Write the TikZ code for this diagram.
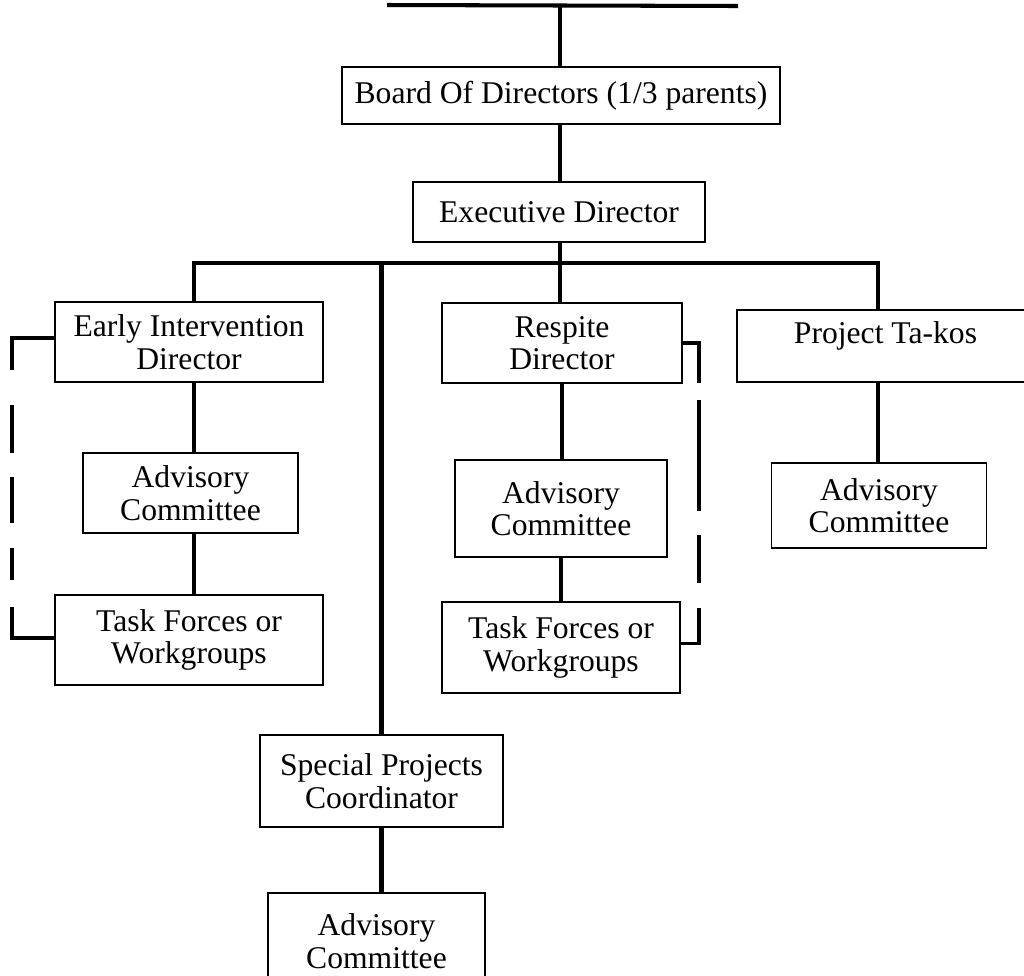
\documentclass[tikz,border=0pt]{standalone}
\usepackage{fontspec}
\setmainfont{Liberation Serif}
\usepackage{tikz}
\usetikzlibrary{calc}
\tikzset{
  unit/.style={draw=black,fill=white,line width=1.1pt,align=center,inner sep=0pt,
    font=\fontsize{18}{18.5}\selectfont},
  link/.style={draw=black,line width=2.3pt},
  staffL/.style={draw=black,line width=2pt,
    dash pattern=on 1.48cm off 0.7cm on 0.96cm off 0.48cm on 0.92cm off 0.5cm on 0.64cm off 0.54cm on 2cm},
  staffR/.style={draw=black,line width=2pt,
    dash pattern=on 1.12cm off 0.34cm on 2.22cm off 0.48cm on 0.96cm off 0.5cm on 2cm},
}

\begin{document}
\begin{tikzpicture}[x=0.02cm,y=-0.02cm]
\useasboundingbox (0,0) rectangle (1024,975);
\clip (0,0) rectangle (1024,975);
\coordinate (topL) at (387,5);
\coordinate (topR) at (738,6);
\coordinate (top) at (560,5);
\coordinate (bus) at (560,263);
\coordinate (busL) at (194,263);
\coordinate (busR) at (878,263);
\node[unit,minimum width=8.76cm,minimum height=1.14cm] (board) at (561,95.5) {Board Of Directors (1/3 parents)};
\node[unit,minimum width=5.84cm,minimum height=1.20cm] (exec) at (559,212) {Executive Director};
\node[unit,minimum width=5.36cm,minimum height=1.60cm] (eid) at (189,342) {Early Intervention\\Director};
\node[unit,minimum width=4.30cm,minimum height=1.60cm] (eiadv) at (190.5,493) {Advisory\\Committee};
\node[unit,minimum width=5.36cm,minimum height=1.80cm] (eitask) at (189,640) {Task Forces or\\Workgroups};
\node[unit,minimum width=4.80cm,minimum height=1.60cm] (resp) at (562,343) {Respite\\Director};
\node[unit,minimum width=4.24cm,minimum height=1.94cm] (radv) at (561,508.5) {Advisory\\Committee};
\node[unit,minimum width=4.76cm,minimum height=1.82cm] (rtask) at (561,647.5) {Task Forces or\\Workgroups};
\node[unit,minimum width=5.94cm,minimum height=1.44cm,text depth=0.55cm] (takos) at (885.5,346) {Project Ta-kos};
\node[unit,minimum width=4.30cm,minimum height=1.70cm] (tadv) at (879,505.5) {Advisory\\Committee};
\node[unit,minimum width=4.86cm,minimum height=1.84cm] (spc) at (381.5,781) {Special Projects\\Coordinator};
\node[unit,minimum width=4.34cm,minimum height=1.92cm] (sadv) at (376.5,941) {Advisory\\Committee};
% top of the chart
\draw[link] (topL) -- (topR);
\draw[link] (top) -- (top |- board.north);
\draw[link] (board.south -| bus) -- (exec.north -| bus);
\draw[link] (exec.south -| bus) -- (bus);
% branch line
\draw[link] (busL |- eid.north) -- (busL) -- (busR) -- (busR |- takos.north);
\draw[link] (bus) -- (bus |- resp.north);
\draw[link] (bus -| spc.north) -- (spc.north);
\foreach \a/\b in {eid/eiadv,eiadv/eitask}
  \draw[link] (busL |- \a.south) -- (busL |- \b.north);
\foreach \a/\b in {resp/radv,radv/rtask,spc/sadv}
  \draw[link] (\a.south) -- (\a.south |- \b.north);
\draw[link] (busR |- takos.south) -- (busR |- tadv.north);
% staff lines
\draw[staffL] ($(eid.west)+(0,-4)$) -- ++(-42,0) |- ($(eitask.west)+(0,-2)$);
\draw[staffR] (resp.east) -- ++(16,0) |- ($(rtask.east)+(0,-4)$);
\end{tikzpicture}
\end{document}
